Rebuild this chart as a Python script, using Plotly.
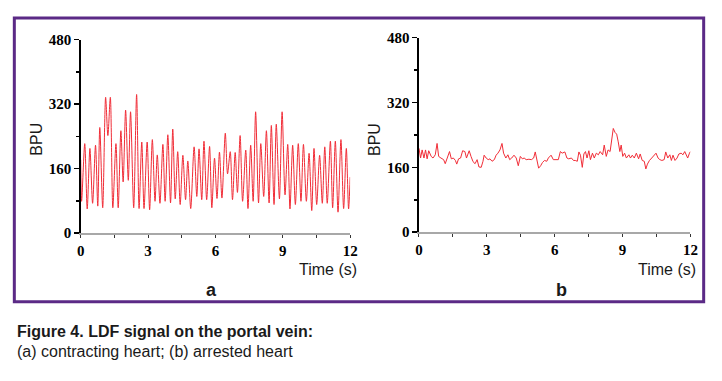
import plotly.graph_objects as go

W, H = 722, 381

# ---- Panel a: contracting heart (time in s, BPU) ----
time_a = [0.00, 0.04, 0.18, 0.29, 0.41, 0.53, 0.66, 0.76, 0.85, 0.98,
          1.11, 1.21, 1.32, 1.43, 1.57, 1.67, 1.79, 1.89, 2.00, 2.12,
          2.22, 2.36, 2.49, 2.60, 2.72, 2.82, 2.96, 3.07, 3.19, 3.31,
          3.41, 3.53, 3.66, 3.76, 3.88, 4.00, 4.10, 4.21, 4.32, 4.43,
          4.55, 4.67, 4.77, 4.90, 5.05, 5.17, 5.27, 5.39, 5.49, 5.61,
          5.74, 5.84, 5.96, 6.07, 6.18, 6.29, 6.44, 6.54, 6.66, 6.76,
          6.88, 6.98, 7.10, 7.21, 7.35, 7.45, 7.57, 7.68, 7.79, 7.92,
          8.02, 8.15, 8.27, 8.39, 8.49, 8.61, 8.71, 8.85, 8.97, 9.10,
          9.22, 9.32, 9.44, 9.56, 9.69, 9.81, 9.92, 10.05, 10.17, 10.29,
          10.39, 10.51, 10.64, 10.76, 10.87, 10.98, 11.12, 11.22, 11.34, 11.46,
          11.59, 11.71, 11.83, 11.93, 12.00]
bpu_a = [182, 79, 222, 60, 210, 74, 218, 67, 262, 63,
         337, 242, 337, 63, 222, 63, 254, 127, 305, 131,
         301, 63, 344, 61, 226, 61, 226, 58, 232, 79,
         194, 74, 220, 79, 244, 75, 258, 85, 202, 71,
         193, 83, 179, 61, 214, 91, 209, 83, 228, 83,
         215, 63, 186, 86, 201, 87, 248, 147, 202, 83,
         200, 101, 242, 79, 206, 61, 218, 79, 301, 75,
         222, 91, 254, 75, 267, 71, 270, 85, 301, 95,
         220, 60, 218, 71, 222, 79, 220, 79, 198, 56,
         210, 71, 193, 74, 214, 74, 228, 63, 228, 52,
         232, 61, 210, 60, 139]

# ---- Panel b: arrested heart ----
time_b = [0.00, 0.07, 0.14, 0.22, 0.29, 0.36, 0.43, 0.54, 0.62, 0.72,
          0.80, 0.87, 0.97, 1.09, 1.16, 1.26, 1.35, 1.43, 1.52, 1.61,
          1.67, 1.75, 1.84, 1.93, 2.03, 2.10, 2.22, 2.30, 2.39, 2.48,
          2.57, 2.65, 2.75, 2.83, 2.88, 2.97, 3.06, 3.14, 3.23, 3.33,
          3.41, 3.49, 3.58, 3.67, 3.74, 3.84, 3.93, 4.01, 4.10, 4.20,
          4.30, 4.39, 4.48, 4.57, 4.65, 4.74, 4.86, 4.97, 5.07, 5.14,
          5.22, 5.29, 5.38, 5.46, 5.55, 5.65, 5.72, 5.84, 5.94, 6.04,
          6.16, 6.25, 6.33, 6.45, 6.54, 6.62, 6.74, 6.83, 6.91, 7.00,
          7.07, 7.14, 7.22, 7.29, 7.36, 7.43, 7.51, 7.58, 7.67, 7.75,
          7.84, 7.93, 8.01, 8.12, 8.19, 8.28, 8.36, 8.45, 8.52, 8.59,
          8.67, 8.74, 8.81, 8.88, 8.94, 9.01, 9.09, 9.17, 9.28, 9.35,
          9.43, 9.52, 9.61, 9.71, 9.78, 9.87, 9.96, 10.03, 10.10, 10.19,
          10.29, 10.39, 10.48, 10.57, 10.65, 10.74, 10.84, 10.91, 11.00, 11.09,
          11.16, 11.23, 11.32, 11.41, 11.49, 11.59, 11.67, 11.75, 11.81, 11.88,
          11.96, 12.00]
bpu_b = [207, 183, 203, 183, 203, 181, 201, 187, 183, 191,
         219, 187, 183, 179, 169, 183, 199, 181, 183, 177,
         168, 181, 183, 201, 199, 183, 201, 187, 174, 169,
         179, 161, 160, 175, 190, 183, 179, 181, 175, 179,
         190, 195, 203, 219, 195, 183, 191, 179, 183, 190,
         183, 164, 187, 181, 183, 179, 180, 179, 183, 198,
         179, 158, 164, 172, 177, 175, 183, 190, 179, 179,
         179, 199, 195, 198, 183, 181, 183, 177, 177, 175,
         198, 190, 160, 193, 199, 183, 201, 179, 195, 183,
         195, 191, 199, 191, 215, 187, 203, 199, 235, 256,
         246, 242, 223, 199, 215, 187, 195, 183, 191, 183,
         190, 183, 195, 181, 193, 177, 175, 156, 168, 177,
         183, 190, 195, 183, 179, 177, 179, 198, 183, 191,
         177, 190, 177, 183, 193, 195, 191, 199, 193, 183,
         195, 199]

x_ticks = [0, 3, 6, 9, 12]
y_ticks = [0, 160, 320, 480]
panel_labels = ["a", "b"]
x_title = "Time (s)"
y_title = "BPU"
caption_1 = "Figure 4. LDF signal on the portal vein:"
caption_2 = "(a) contracting heart; (b) arrested heart"

RED = "rgb(240,45,55)"
PURPLE = "#5B2A86"
tick_font = dict(family="Liberation Serif", size=15, color="black", weight="bold")

fig = go.Figure()
fig.add_trace(go.Scatter(x=time_a, y=bpu_a, mode="lines", xaxis="x", yaxis="y",
                         line=dict(color=RED, width=1, shape="spline", smoothing=0.8),
                         showlegend=False, hoverinfo="skip"))
fig.add_trace(go.Scatter(x=time_b, y=bpu_b, mode="lines", xaxis="x2", yaxis="y2",
                         line=dict(color=RED, width=1),
                         showlegend=False, hoverinfo="skip"))

def px_x(p):
    return p / W

def px_y(p):
    return 1 - p / H

def xaxis(domain, anchor):
    return dict(domain=domain, anchor=anchor, range=[0, 12], tickvals=x_ticks,
                ticktext=[str(v) for v in x_ticks], showline=True, linecolor="#a8a8a8",
                linewidth=2, ticks="outside", ticklen=3, tickcolor="#333", tickwidth=1,
                minor=dict(ticks="outside", ticklen=3, dtick=1.5, tick0=0, tickcolor="#333"),
                showgrid=False, zeroline=False, tickfont=tick_font, fixedrange=True)

def yaxis(domain, anchor):
    return dict(domain=domain, anchor=anchor, range=[0, 480], tickvals=y_ticks,
                ticktext=[str(v) for v in y_ticks], showline=True, linecolor="black",
                linewidth=1.5, ticks="outside", ticklen=5, tickcolor="black", tickwidth=1.5,
                minor=dict(ticks="outside", ticklen=3, dtick=80, tick0=0, tickcolor="black"),
                showgrid=False, zeroline=False, tickfont=tick_font, fixedrange=True)

fig.update_layout(
    width=W, height=H, margin=dict(l=0, r=0, t=0, b=0),
    paper_bgcolor="white", plot_bgcolor="white",
    xaxis=xaxis([px_x(78), px_x(352)], "y"),
    yaxis=yaxis([px_y(235), px_y(33)], "x"),
    xaxis2=xaxis([px_x(422), px_x(698)], "y2"),
    yaxis2=yaxis([px_y(234), px_y(31)], "x2"),
)

# purple frame
fig.add_shape(type="rect", xref="paper", yref="paper",
              x0=px_x(10.5), x1=px_x(711.5), y0=px_y(306.5), y1=px_y(10.5),
              line=dict(color=PURPLE, width=3), fillcolor="rgba(0,0,0,0)", layer="below")

lab_font = dict(family="Liberation Sans", size=16, color="#1a1a1a")
anns = [
    (33, 137, y_title, -90, lab_font),
    (377, 137, y_title, -90, lab_font),
    (329, 273, x_title, 0, lab_font),
    (674, 273, x_title, 0, lab_font),
    (211, 294, panel_labels[0], 0, dict(family="Liberation Sans", size=18, color="#1a1a1a", weight="bold")),
    (567, 294, panel_labels[1], 0, dict(family="Liberation Sans", size=18, color="#1a1a1a", weight="bold")),
]
for x, y, t, ang, f in anns:
    fig.add_annotation(xref="paper", yref="paper", x=px_x(x), y=px_y(y), text=t,
                       textangle=ang, showarrow=False, font=f,
                       xanchor="center", yanchor="middle")

fig.add_annotation(xref="paper", yref="paper", x=px_x(11), y=px_y(338), text=caption_1,
                   showarrow=False, xanchor="left", yanchor="middle",
                   font=dict(family="Liberation Sans", size=16, color="#1a1a1a", weight="bold"))
fig.add_annotation(xref="paper", yref="paper", x=px_x(11), y=px_y(359), text=caption_2,
                   showarrow=False, xanchor="left", yanchor="middle",
                   font=dict(family="Liberation Sans", size=16, color="#1a1a1a"))

fig.write_html("out.html", config={"displayModeBar": False, "staticPlot": True},
               post_script="document.body.style.margin='0';document.body.style.overflow='hidden';")
